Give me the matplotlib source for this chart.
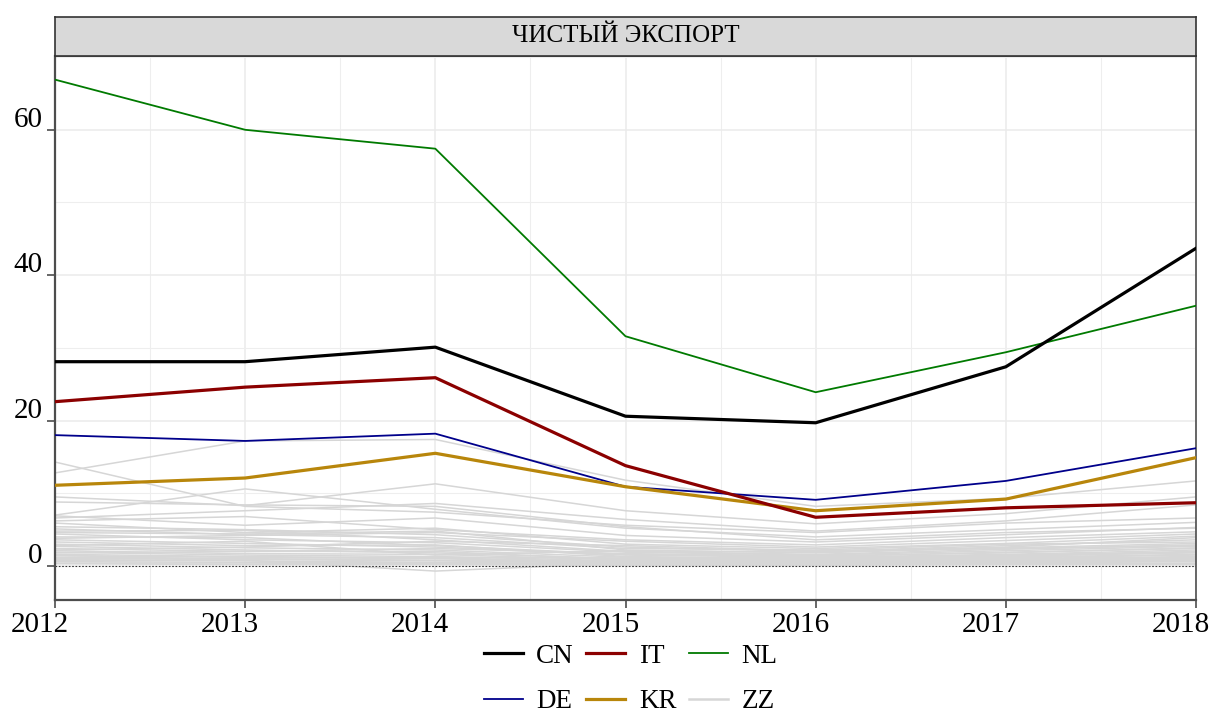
import numpy as np
import matplotlib
matplotlib.use("Agg")
import matplotlib.pyplot as plt
import matplotlib.transforms as mtransforms
from matplotlib.lines import Line2D

plt.rcParams["font.family"] = ["Liberation Serif", "DejaVu Serif"]

# годы по оси x
years = [2012, 2013, 2014, 2015, 2016, 2017, 2018]

# выделенные страны
CN = [28.1, 28.1, 30.1, 20.6, 19.7, 27.4, 43.7]
IT = [22.6, 24.6, 25.9, 13.8, 6.7, 8.0, 8.7]
NL = [66.9, 60.0, 57.4, 31.6, 23.9, 29.4, 35.8]
DE = [18.0, 17.2, 18.2, 10.9, 9.1, 11.7, 16.2]
KR = [11.1, 12.1, 15.5, 10.9, 7.6, 9.2, 14.9]

# остальные страны (серые линии)
ZZ = [
    [12.8, 17.2, 17.4, 11.8, 8.2, 9.3, 11.7],
    [14.3, 8.2, 7.4, 5.6, 4.6, 5.9, 6.6],
    [9.5, 8.3, 11.3, 7.6, 5.8, 7.2, 9.5],
    [7.0, 10.6, 7.8, 5.2, 4.0, 5.0, 6.0],
    [6.6, 7.6, 8.6, 6.4, 4.8, 6.2, 8.4],
    [8.8, 8.4, 8.2, 5.4, 3.6, 4.6, 5.2],
    [6.2, 6.8, 5.0, 3.6, 2.9, 3.9, 4.7],
    [5.9, 4.6, 5.2, 3.0, 2.4, 3.1, 4.1],
    [5.4, 5.0, 4.3, 2.6, 2.0, 2.8, 3.6],
    [5.1, 4.3, 3.9, 2.4, 2.2, 3.0, 3.3],
    [4.8, 4.9, 3.6, 2.0, 1.6, 2.3, 2.9],
    [4.4, 3.6, 3.2, 1.9, 1.5, 2.1, 2.7],
    [4.0, 3.9, 2.8, 1.6, 1.3, 1.9, 2.4],
    [3.6, 3.1, 2.6, 1.5, 1.2, 1.6, 2.2],
    [3.3, 2.8, 2.9, 1.3, 1.0, 1.5, 2.0],
    [3.0, 2.5, 2.2, 1.2, 1.1, 1.4, 1.8],
    [2.7, 2.2, 1.8, 1.0, 0.9, 1.2, 1.6],
    [2.4, 2.0, 2.0, 0.9, 0.8, 1.1, 1.5],
    [2.1, 1.7, 1.6, 0.8, 0.7, 1.0, 1.3],
    [1.9, 1.5, 1.3, 0.7, 0.6, 0.9, 1.2],
    [1.6, 1.3, 1.1, 0.6, 0.5, 0.8, 1.0],
    [1.4, 1.2, 1.0, 0.5, 0.5, 0.7, 0.9],
    [1.2, 1.0, 0.8, 0.5, 0.4, 0.6, 0.8],
    [1.0, 0.9, 0.7, 0.4, 0.3, 0.5, 0.7],
    [0.8, 0.7, 0.5, 0.3, 0.3, 0.4, 0.6],
    [0.6, 0.5, 0.4, 0.3, 0.2, 0.3, 0.4],
    [0.4, 0.4, 0.3, 0.2, 0.2, 0.3, 0.3],
    [0.3, 0.2, 0.2, 0.1, 0.1, 0.2, 0.2],
    [1.5, 0.8, -0.7, 0.4, 0.6, 0.9, 1.1],
    [2.8, 3.4, 1.5, 2.1, 1.9, 2.6, 3.9],
    [3.8, 4.2, 4.6, 3.4, 2.6, 3.5, 4.4],
    [2.2, 2.6, 3.4, 2.8, 2.1, 2.4, 2.8],
    [6.9, 5.6, 6.6, 4.2, 3.3, 4.3, 5.3],
    [4.6, 4.4, 4.8, 2.2, 1.8, 2.5, 3.1],
    [1.8, 2.0, 2.4, 1.7, 1.4, 1.8, 2.5],
    [0.9, 1.1, 1.2, 1.1, 0.9, 1.3, 1.9],
]

y_ticks = [0, 20, 40, 60]
title = "ЧИСТЫЙ ЭКСПОРТ"

# стиль выделенных линий: цвет, толщина
styles = {
    "CN": ("#000000", 2.3),
    "IT": ("#8B0000", 2.3),
    "NL": ("#007A00", 1.3),
    "DE": ("#00008B", 1.3),
    "KR": ("#B8860B", 2.3),
}
series = {"CN": CN, "IT": IT, "NL": NL, "DE": DE, "KR": KR}
ZZ_COLOR = "#D6D6D6"
AX_COLOR = "#4D4D4D"

W, H = 1211, 718
fig = plt.figure(figsize=(W / 100, H / 100), dpi=100)
left, right, bottom, top = 55 / W, 1196 / W, 1 - 600 / H, 1 - 56 / H
ax = fig.add_axes([left, bottom, right - left, top - bottom])

# серые линии
for row in ZZ:
    ax.plot(years, row, color=ZZ_COLOR, lw=1.1, zorder=2)

# выделенные страны
for name in ["DE", "KR", "NL", "IT", "CN"]:
    c, lw = styles[name]
    ax.plot(years, series[name], color=c, lw=lw, zorder=3)

ax.axhline(0, color="#333333", lw=0.8, ls=(0, (1.5, 1.5)), zorder=2.5)

ax.set_xlim(2012, 2018)
ax.set_ylim(-4.68, 70.15)
ax.set_xticks(years)
ax.set_yticks(y_ticks)
ax.set_xticks([y + 0.5 for y in years[:-1]], minor=True)
ax.set_yticks([10, 30, 50, 70], minor=True)
ax.grid(True, which="major", color="#EBEBEB", lw=1.1, zorder=0)
ax.grid(True, which="minor", color="#EEEEEE", lw=0.8, zorder=0)
ax.set_axisbelow(True)
ax.tick_params(which="minor", length=0)
ax.tick_params(which="major", direction="out", length=6, width=1.2,
               color=AX_COLOR, labelsize=21, labelcolor="black", pad=3)

for s in ["left", "bottom"]:
    ax.spines[s].set_color(AX_COLOR)
    ax.spines[s].set_linewidth(1.6)
for s in ["top", "right"]:
    ax.spines[s].set_color(AX_COLOR)
    ax.spines[s].set_linewidth(1.2)

# сдвиг подписей как на оригинале
for lab in ax.get_xticklabels():
    lab.set_transform(lab.get_transform() +
                      mtransforms.ScaledTranslation(-15 / 100, 0, fig.dpi_scale_trans))
for lab in ax.get_yticklabels():
    lab.set_verticalalignment("baseline")
    lab.set_transform(lab.get_transform() +
                      mtransforms.ScaledTranslation(0, 3 / 100, fig.dpi_scale_trans))

# полоса заголовка фасета
sax = fig.add_axes([left, 1 - 56 / H, right - left, 39 / H])
sax.set_facecolor("#D9D9D9")
sax.set_xticks([])
sax.set_yticks([])
for s in sax.spines.values():
    s.set_color("#333333")
    s.set_linewidth(1.2)
sax.text(0.5, 0.5, title, ha="center", va="center", fontsize=18,
         transform=sax.transAxes)

# легенда
order = ["CN", "DE", "IT", "KR", "NL"]
handles = [Line2D([], [], color=styles[n][0], lw=styles[n][1]) for n in order]
handles.append(Line2D([], [], color=ZZ_COLOR, lw=1.8))
labels = order + ["ZZ"]
fig.legend(handles, labels, ncol=3, loc="center",
           bbox_to_anchor=((left + right) / 2 + 5 / W, 1 - 679 / H),
           frameon=False, fontsize=19.5, handlelength=1.45, handletextpad=0.5,
           columnspacing=0.45, labelspacing=0.75, borderpad=0)

fig.savefig("out.png", dpi=100)
